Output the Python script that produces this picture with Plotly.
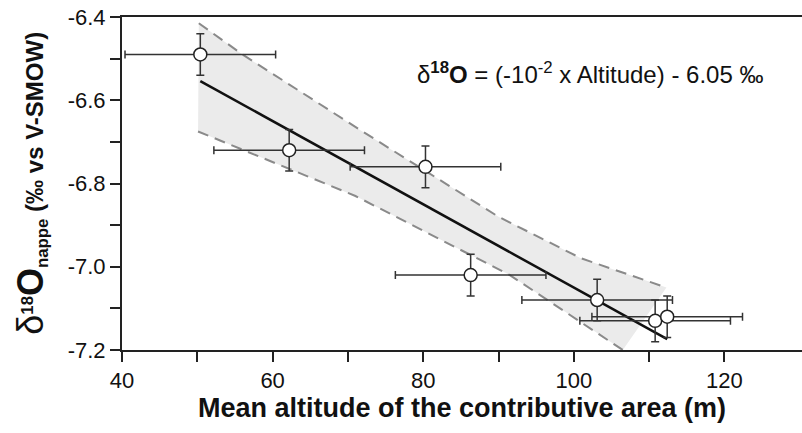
import plotly.graph_objects as go

# Altitude vs groundwater delta-18O measurements
altitude = [50.4, 62.2, 80.3, 86.3, 103.1, 110.8, 112.4]
altitude_err = [10, 10, 10, 10, 10, 10, 10]
d18o = [-6.49, -6.72, -6.76, -7.02, -7.08, -7.13, -7.12]
d18o_err = [0.05, 0.05, 0.05, 0.05, 0.05, 0.05, 0.05]

# Regression line end points (delta = -0.01 * altitude - 6.05)
fit_x = [50.4, 112.4]
fit_y = [-6.554, -7.174]

# Confidence band limits
upper_x = [50.2, 56.0, 71.5, 90.0, 101.0, 112.3]
upper_y = [-6.415, -6.49, -6.67, -6.88, -6.98, -7.05]
lower_x = [50.1, 71.0, 91.5, 106.5]
lower_y = [-6.675, -6.83, -7.02, -7.2]

x_ticks = [40, 50, 60, 70, 80, 90, 100, 110, 120]
x_labels = ["40", "", "60", "", "80", "", "100", "", "120"]
y_ticks = [-7.2, -7.1, -7.0, -6.9, -6.8, -6.7, -6.6, -6.5, -6.4]
y_labels = ["-7.2", "", "-7.0", "", "-6.8", "", "-6.6", "", "-6.4"]

FONT = "Arial, Liberation Sans, sans-serif"

fig = go.Figure()

# shaded confidence region
fig.add_trace(go.Scatter(
    x=upper_x + lower_x[::-1],
    y=upper_y + lower_y[::-1],
    fill="toself", fillcolor="#ebebeb",
    line=dict(width=0), mode="lines", hoverinfo="skip", showlegend=False,
))
for bx, by in ((upper_x, upper_y), (lower_x, lower_y)):
    fig.add_trace(go.Scatter(
        x=bx, y=by, mode="lines",
        line=dict(color="#8a8a8a", width=2, dash="11px,7px"),
        showlegend=False,
    ))

fig.add_trace(go.Scatter(
    x=fit_x, y=fit_y, mode="lines",
    line=dict(color="#111111", width=2.5), showlegend=False,
))

fig.add_trace(go.Scatter(
    x=altitude, y=d18o, mode="markers",
    marker=dict(size=13, color="white", line=dict(color="#222222", width=1.5)),
    error_x=dict(type="data", array=altitude_err, color="#333333", thickness=1.5, width=4),
    error_y=dict(type="data", array=d18o_err, color="#333333", thickness=1.5, width=4),
    showlegend=False,
))

fig.add_annotation(
    xref="paper", yref="paper", x=0.431, y=0.831, xanchor="left", yanchor="middle",
    text="δ<b><sup>18</sup>O</b> = (-10<sup>-2</sup> x Altitude) - 6.05 ‰",
    showarrow=False, font=dict(family=FONT, size=24, color="#111111"),
)

fig.add_annotation(
    xref="paper", yref="paper", x=-0.135, y=0.5, xanchor="center", yanchor="middle",
    textangle=-90,
    text=("<span style='font-size:36px'>δ</span><b><sup>18</sup>"
          "<span style='font-size:36px'>O</span><sub>nappe</sub> (‰ vs V-SMOW)</b>"),
    showarrow=False, font=dict(family=FONT, size=24, color="#111111"),
)

fig.update_layout(
    width=802, height=433,
    margin=dict(l=122, r=0, t=17, b=83),
    paper_bgcolor="white", plot_bgcolor="white",
    font=dict(family=FONT, color="#111111"),
    xaxis=dict(
        range=[40, 130.3], tickvals=x_ticks, ticktext=x_labels,
        showline=True, linecolor="#222222", linewidth=2, mirror=True,
        ticks="outside", ticklen=10, tickwidth=1.5, tickcolor="#222222",
        showgrid=False, zeroline=False,
        tickfont=dict(family=FONT, size=22, color="#111111"),
        title=dict(text="<b>Mean altitude of the contributive area (m)</b>",
                   font=dict(family=FONT, size=27, color="#111111"), standoff=6),
    ),
    yaxis=dict(
        range=[-7.2, -6.4], tickvals=y_ticks, ticktext=y_labels,
        showline=True, linecolor="#222222", linewidth=2,
        ticks="outside", ticklen=10, tickwidth=1.5, tickcolor="#222222",
        showgrid=False, zeroline=False,
        tickfont=dict(family=FONT, size=22, color="#111111"),
    ),
)

fig.write_html("out.html")
